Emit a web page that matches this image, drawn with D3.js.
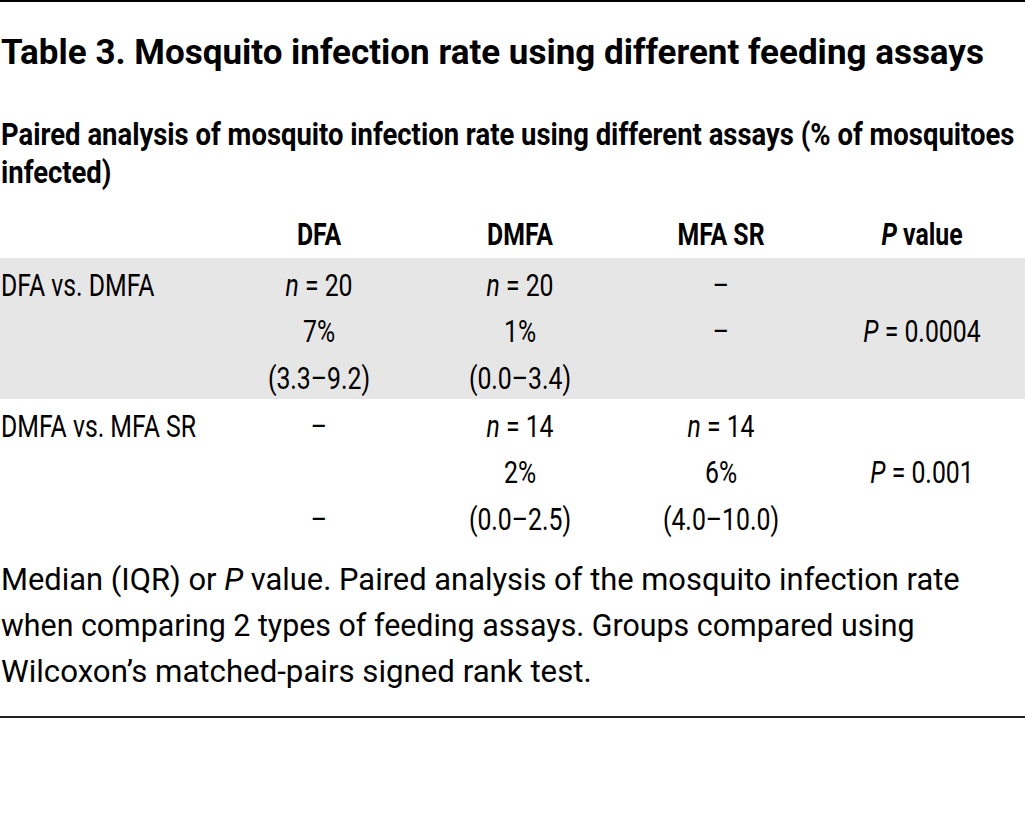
<!DOCTYPE html>
<html>
<head>
<meta charset="utf-8">
<script src="https://cdn.jsdelivr.net/npm/d3@7"></script>
<style>
  html, body { margin: 0; padding: 0; background: #fff; }
  svg { display: block; }
  text { font-family: Roboto, "Liberation Sans", sans-serif; fill: #000; }
</style>
</head>
<body>
<svg id="chart" width="1025" height="813"></svg>
<script>
// ---- content ----
const title = "Table 3. Mosquito infection rate using different feeding assays";
const subtitleLines = ["Paired analysis of mosquito infection rate using different assays (% of mosquitoes", "infected)"];
const assays = ["DFA", "DMFA", "MFA SR"];
const comparisons = ["DFA vs. DMFA", "DMFA vs. MFA SR"];
// per comparison, per assay (null = assay not part of comparison)
const nValues   = [[20, 20, null], [null, 14, 14]];
const medians   = [[7, 1, null],   [null, 2, 6]];
const iqrLow    = [[3.3, 0.0, null], [null, 0.0, 4.0]];
const iqrHigh   = [[9.2, 3.4, null], [null, 2.5, 10.0]];
const pValues   = ["0.0004", "0.001"];
// sub-lines (0 = n, 1 = median, 2 = IQR) showing a dash for the assay not compared
const dashLines = [[0, 1], [0, 2]];
const footnoteLines = [
  [["Median (IQR) or ", false], ["P", true], [" value. Paired analysis of the mosquito infection rate", false]],
  [["when comparing 2 types of feeding assays. Groups compared using", false]],
  [["Wilcoxon\u2019s matched-pairs signed rank test.", false]]
];

// ---- layout ----
const W = 1025;
const svg = d3.select("#chart");
const fmt1 = d3.format(".1f");

// place a text at (px, py) horizontally condensed by factor k
function place(textSel, px, py, k) {
  textSel.attr("x", 0).attr("y", 0)
    .attr("transform", `translate(${px},${py}) scale(${k},1)`);
}
function fitWidth(textSel, px, py, target) {
  const w = textSel.node().getComputedTextLength();
  const k = target / w;
  place(textSel, px, py, k);
  return k;
}

// top rule
svg.append("rect").attr("x", 0).attr("y", 0).attr("width", W).attr("height", 2).attr("fill", "#000");

// title
const t = svg.append("text").style("font-size", "36px").style("font-weight", 700).text(title);
fitWidth(t, 1, 64, 983);

// subtitle
const s0 = svg.append("text").style("font-size", "31px").style("font-weight", 700).text(subtitleLines[0]);
const kSub = fitWidth(s0, 1, 145, 1014);
const s1 = svg.append("text").style("font-size", "31px").style("font-weight", 700).text(subtitleLines[1]);
place(s1, 1, 183, kSub);

// columns
const colKeys = [...assays, "P"];
const x = d3.scalePoint().domain(colKeys).range([319, 922]);
const kCell = 0.8;

// header
assays.forEach(a => {
  const h = svg.append("text").attr("text-anchor", "middle")
    .style("font-size", "31px").style("font-weight", 700).text(a);
  place(h, x(a), 245, kCell);
});
const ph = svg.append("text").attr("text-anchor", "middle")
  .style("font-size", "31px").style("font-weight", 700);
ph.append("tspan").style("font-style", "italic").text("P");
ph.append("tspan").text(" value");
place(ph, x("P"), 245, kCell);

// rows
const y = d3.scaleBand().domain(comparisons).range([258, 540]).paddingInner(0);
const lineY = i => 37.5 + i * 46.5;

const groups = svg.selectAll("g.row").data(comparisons).join("g")
  .attr("class", "row").attr("transform", d => `translate(0,${y(d)})`);

groups.filter((d, i) => i === 0).append("rect")
  .attr("x", 0).attr("y", 0).attr("width", W).attr("height", y.bandwidth())
  .attr("fill", "#e6e6e6");

groups.each(function (comp, ci) {
  const g = d3.select(this);
  const cell = (px, li) => {
    const tx = g.append("text").attr("text-anchor", "middle").style("font-size", "31px");
    place(tx, px, lineY(li), kCell);
    return tx;
  };
  const lab = g.append("text").style("font-size", "31px").text(comp);
  place(lab, 1, lineY(0), kCell);
  assays.forEach((a, ai) => {
    if (nValues[ci][ai] == null) {
      dashLines[ci].forEach(li => cell(x(a), li).text("\u2013"));
      return;
    }
    const tn = cell(x(a), 0);
    tn.append("tspan").style("font-style", "italic").text("n");
    tn.append("tspan").text(" = " + nValues[ci][ai]);
    cell(x(a), 1).text(medians[ci][ai] + "%");
    cell(x(a), 2).text("(" + fmt1(iqrLow[ci][ai]) + "\u2013" + fmt1(iqrHigh[ci][ai]) + ")");
  });
  const tp = cell(x("P"), 1);
  tp.append("tspan").style("font-style", "italic").text("P");
  tp.append("tspan").text(" = " + pValues[ci]);
});

// footnote
const footTargets = [959, 914, 591];
footnoteLines.forEach((parts, i) => {
  const ft = svg.append("text").style("font-size", "31px");
  parts.forEach(([s, it]) => {
    ft.append("tspan").style("font-style", it ? "italic" : "normal").text(s);
  });
  fitWidth(ft, 1, 590 + i * 46, footTargets[i]);
});

// bottom rule
svg.append("rect").attr("x", 0).attr("y", 716).attr("width", W).attr("height", 2).attr("fill", "#222");
</script>
</body>
</html>
